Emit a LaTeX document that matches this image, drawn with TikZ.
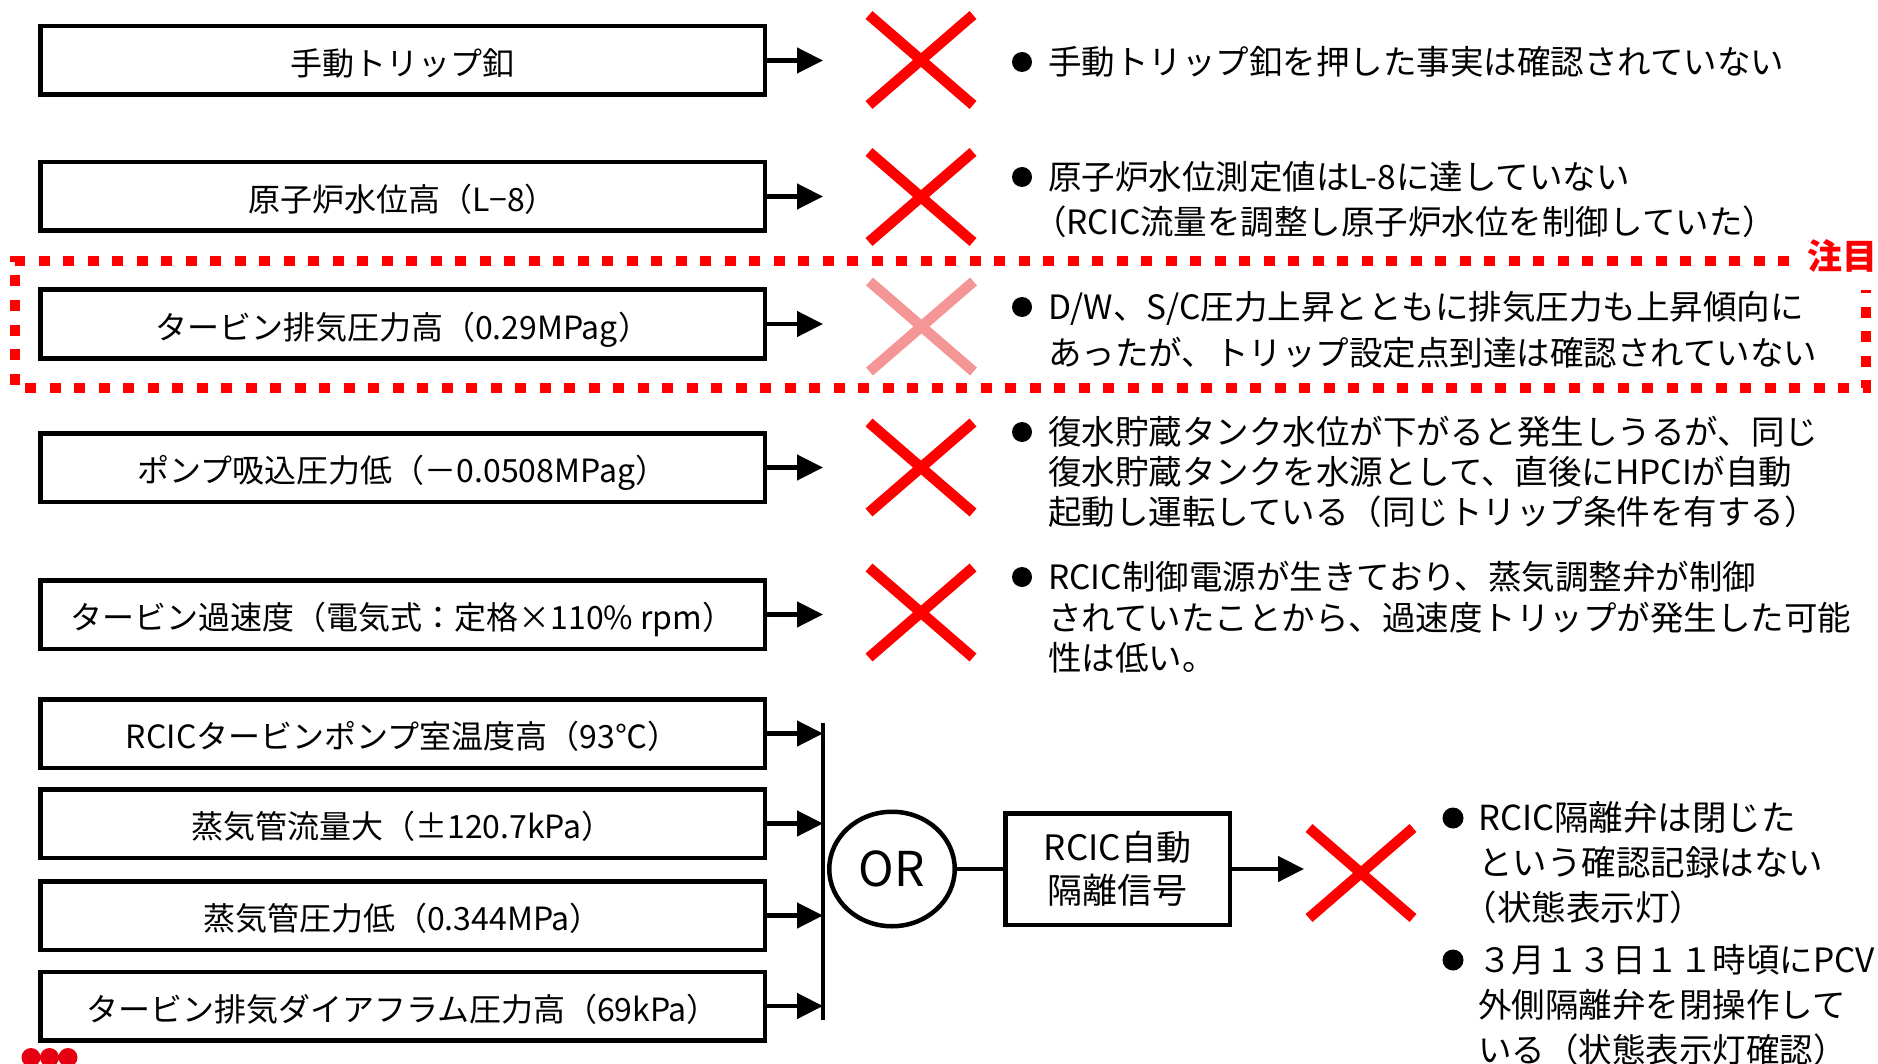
\documentclass[tikz,border=0pt]{standalone}
\usepackage{fontspec}
\setmainfont{Noto Sans CJK JP}
\usetikzlibrary{arrows.meta,shapes.geometric}
\definecolor{xred}{RGB}{255,0,0}
\definecolor{xpale}{RGB}{245,150,150}
\definecolor{dotred}{RGB}{230,0,18}
\newcommand\crossmark[3]{\draw[xmark,#3] ({#1-52},{#2-45}) -- ({#1+52},{#2+45}) ({#1+52},{#2-45}) -- ({#1-52},{#2+45});}
\begin{document}
\begin{tikzpicture}[x=1pt,y=-1pt,
  cbox/.style={draw, line width=4.5pt, minimum width=724.5pt, minimum height=68.5pt, inner sep=0pt, text height=30pt, text depth=0pt, font=\fontsize{32}{38}\selectfont},
  arr/.style={line width=4.5pt, -{Triangle[length=26pt,width=25pt]}},
  ln/.style={line width=4.5pt},
  xmark/.style={line width=10.5pt, line cap=butt, draw=xred},
  note/.style={anchor=west, inner sep=0pt, align=left, font=\fontsize{33.5}{45}\selectfont},
  ]
\useasboundingbox (0,0) rectangle (1878,1064);

% left condition boxes
\node[cbox] (b1) at (402.5,60.5) {手動トリップ釦};
\node[cbox] (b2) at (402.5,196.5) {原子炉水位高（L−8）};
\node[cbox] (b3) at (402.5,324) {タービン排気圧力高（0.29MPag）};
\node[cbox] (b4) at (402.5,467.5) {ポンプ吸込圧力低（－0.0508MPag）};
\node[cbox] (b5) at (402.5,614.5) {タービン過速度（電気式：定格×110\% rpm）};
\node[cbox] (b6) at (402.5,733.5) {RCICタービンポンプ室温度高（93℃）};
\node[cbox] (b7) at (402.5,823.5) {蒸気管流量大（±120.7kPa）};
\node[cbox] (b8) at (402.5,915.5) {蒸気管圧力低（0.344MPa）};
\node[cbox] (b9) at (402.5,1006) {タービン排気ダイアフラム圧力高（69kPa）};

% arrows to the crosses
\coordinate (e1) at (823,60.5);
\coordinate (e2) at (823,196.5);
\coordinate (e3) at (823,324);
\coordinate (e4) at (823,467.5);
\coordinate (e5) at (823,614.5);
\draw[arr] (b1.east) -- (e1);
\draw[arr] (b2.east) -- (e2);
\draw[arr] (b3.east) -- (e3);
\draw[arr] (b4.east) -- (e4);
\draw[arr] (b5.east) -- (e5);

% crosses
\crossmark{921}{60}{}
\crossmark{921}{197}{}
\crossmark{921.5}{326.5}{draw=xpale}
\crossmark{921}{467.5}{}
\crossmark{921}{612.5}{}
\crossmark{1361}{873}{}

% OR gate part
\coordinate (bt) at (823,723);
\coordinate (bb) at (823,1020);
\draw[ln] (bt) -- (bb);
\draw[arr] (b6.east) -- (b6.east -| bt);
\draw[arr] (b7.east) -- (b7.east -| bt);
\draw[arr] (b8.east) -- (b8.east -| bt);
\draw[arr] (b9.east) -- (b9.east -| bt);
\node[draw, ellipse, line width=4.5pt, minimum width=125.5pt, minimum height=114.5pt, inner sep=0pt, font=\fontsize{48}{50}\selectfont] (or) at (892,869) {OR};
\node[draw, line width=4.5pt, minimum width=224.5pt, minimum height=111.5pt, inner sep=0pt, align=center, font=\fontsize{35}{43}\selectfont] (rcic) at (1117.5,869) {RCIC自動\\隔離信号};
\draw[ln] (or.east) -- (rcic.west);
\coordinate (e6) at (1304,869);
\draw[arr] (rcic.east) -- (e6);

% highlighted frame
\draw[draw=xred, line width=10pt, dash pattern=on 11pt off 13.5pt] (1789,261) -- (15,261) -- (15,388) -- (1866,388) -- (1866,290);
\node[inner sep=0pt, text=xred, font=\fontsize{35}{40}\selectfont\bfseries] (chu) at (1842,256) {注目};

% bullets
\fill (1022,62) circle (10pt);
\fill (1022,177) circle (10pt);
\fill (1022,307) circle (10pt);
\fill (1022,432) circle (10pt);
\fill (1022,577) circle (10pt);
\fill (1453,818) circle (10.5pt);
\fill (1453,960) circle (10.5pt);

% notes
\node[note] (t1) at (1048,62) {手動トリップ釦を押した事実は確認されていない};
\node[note] (t2) at (1048,199.5) {原子炉水位測定値はL-8に達していない\\\kern-0.45em（RCIC流量を調整し原子炉水位を制御していた）};
\node[note, font=\fontsize{33.5}{46}\selectfont] (t3) at (1048,330) {D/W、S/C圧力上昇とともに排気圧力も上昇傾向に\\あったが、トリップ設定点到達は確認されていない};
\node[note, font=\fontsize{33.5}{40}\selectfont] (t4) at (1048,472) {復水貯蔵タンク水位が下がると発生しうるが、同じ\\復水貯蔵タンクを水源として、直後にHPCIが自動\\起動し運転している（同じトリップ条件を有する）};
\node[note, font=\fontsize{33.5}{40.5}\selectfont] (t5) at (1048,617.5) {RCIC制御電源が生きており、蒸気調整弁が制御\\されていたことから、過速度トリップが発生した可能\\性は低い。};
\node[note, font=\fontsize{34.5}{45}\selectfont] (t6) at (1478,863) {RCIC隔離弁は閉じた\\という確認記録はない\\\kern-0.45em（状態表示灯）};
\node[note, font=\fontsize{33.5}{45}\selectfont] (t7) at (1478,1005) {３月１３日１１時頃にPCV\\外側隔離弁を閉操作して\\いる（状態表示灯確認）};

% footer dots
\begin{scope}
\clip (0,0) rectangle (1878,1064);
\fill[dotred] (31,1057.5) circle (9.5pt) (49.5,1057.5) circle (9.5pt) (68,1057.5) circle (9.5pt);
\end{scope}
\end{tikzpicture}
\end{document}
